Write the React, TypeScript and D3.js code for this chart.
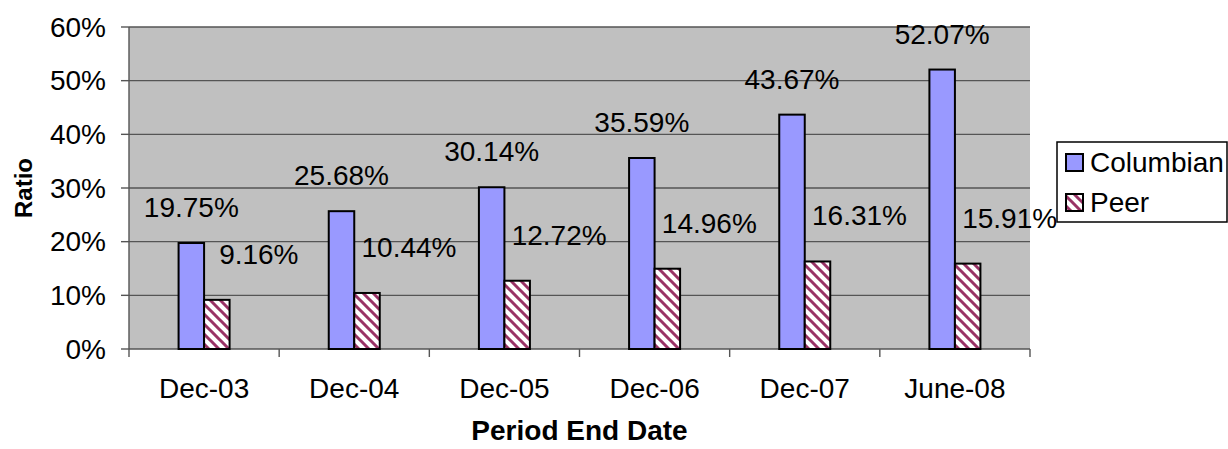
import React from "react";
import * as d3 from "d3";

const categories = ["Dec-03", "Dec-04", "Dec-05", "Dec-06", "Dec-07", "June-08"];
const columbian = [19.75, 25.68, 30.14, 35.59, 43.67, 52.07];
const peer = [9.16, 10.44, 12.72, 14.96, 16.31, 15.91];
const yTicks = [0, 10, 20, 30, 40, 50, 60];
const seriesNames = ["Columbian", "Peer"];

const W = 1228;
const H = 449;
const plot = { left: 129, right: 1030, top: 27, bottom: 349 };
const FONT = "'Liberation Sans', Arial, Helvetica, sans-serif";
const FS = 28;
const BLUE = "#9999FF";
const MAROON = "#993366";
const GRID = "#555555";

export default function App() {
  const x = d3.scaleBand<string>().domain(categories).range([plot.left, plot.right]).padding(0);
  const y = d3.scaleLinear().domain([0, 60]).range([plot.bottom, plot.top]);
  const barW = 25.5;
  const fmt = (v: number) => v.toFixed(2) + "%";

  return (
    <svg
      width={W}
      height={H}
      viewBox={`0 0 ${W} ${H}`}
      style={{ position: "absolute", left: 0, top: 0, background: "#ffffff" }}
      fontFamily={FONT}
    >
      <defs>
        <pattern id="hatch" patternUnits="userSpaceOnUse" width={10} height={10}>
          <rect width={10} height={10} fill="#ffffff" />
          <path d="M-2,-2 L12,12 M-2,8 L2,12 M8,-2 L12,2" stroke={MAROON} strokeWidth={3} />
        </pattern>
      </defs>

      <rect
        x={plot.left}
        y={plot.top}
        width={plot.right - plot.left}
        height={plot.bottom - plot.top}
        fill="#C0C0C0"
      />

      {yTicks.map((t) => (
        <g key={t}>
          {t > 0 && (
            <line x1={plot.left} x2={plot.right} y1={y(t)} y2={y(t)} stroke={GRID} strokeWidth={1.4} />
          )}
          <line x1={plot.left - 8} x2={plot.left} y1={y(t)} y2={y(t)} stroke={GRID} strokeWidth={1.4} />
          <text x={106} y={y(t)} dy="0.35em" textAnchor="end" fontSize={FS} fill="#000">
            {t}%
          </text>
        </g>
      ))}

      <line x1={plot.left} x2={plot.left} y1={plot.top} y2={plot.bottom} stroke={GRID} strokeWidth={1.4} />
      <line x1={plot.left} x2={plot.right} y1={plot.bottom} y2={plot.bottom} stroke={GRID} strokeWidth={1.4} />
      {categories.concat(["__end"]).map((c, i) => {
        const xx = plot.left + i * x.bandwidth();
        return <line key={c} x1={xx} x2={xx} y1={plot.bottom} y2={plot.bottom + 8} stroke={GRID} strokeWidth={1.4} />;
      })}

      {categories.map((c, i) => {
        const cx = (x(c) as number) + x.bandwidth() / 2;
        return (
          <g key={c}>
            <rect
              x={cx - barW}
              y={y(columbian[i])}
              width={barW}
              height={y(0) - y(columbian[i])}
              fill={BLUE}
              stroke="#000"
              strokeWidth={2}
            />
            <rect
              x={cx}
              y={y(peer[i])}
              width={barW}
              height={y(0) - y(peer[i])}
              fill="url(#hatch)"
              stroke="#000"
              strokeWidth={2}
            />
            <text x={cx - barW / 2} y={y(columbian[i]) - 26} textAnchor="middle" fontSize={FS} fill="#000">
              {fmt(columbian[i])}
            </text>
            <text x={cx + barW / 2 + 42} y={y(peer[i]) - 36} textAnchor="middle" fontSize={FS} fill="#000">
              {fmt(peer[i])}
            </text>
            <text x={cx} y={398} textAnchor="middle" fontSize={FS} fill="#000">
              {c}
            </text>
          </g>
        );
      })}

      <text
        x={(plot.left + plot.right) / 2}
        y={440}
        textAnchor="middle"
        fontSize={FS}
        fontWeight="bold"
        fill="#000"
      >
        Period End Date
      </text>
      <text
        transform={`translate(32, ${(plot.top + plot.bottom) / 2}) rotate(-90)`}
        textAnchor="middle"
        fontSize={24}
        fontWeight="bold"
        fill="#000"
      >
        Ratio
      </text>

      <rect x={1057} y={142} width={170} height={80} fill="#ffffff" stroke="#000" strokeWidth={1.5} />
      {seriesNames.map((s, i) => (
        <g key={s}>
          <rect
            x={1066}
            y={154 + i * 40}
            width={17}
            height={17}
            fill={i === 0 ? BLUE : "url(#hatch)"}
            stroke="#000"
            strokeWidth={2}
          />
          <text x={1090} y={172 + i * 40} fontSize={FS} fill="#000">
            {s}
          </text>
        </g>
      ))}
    </svg>
  );
}
